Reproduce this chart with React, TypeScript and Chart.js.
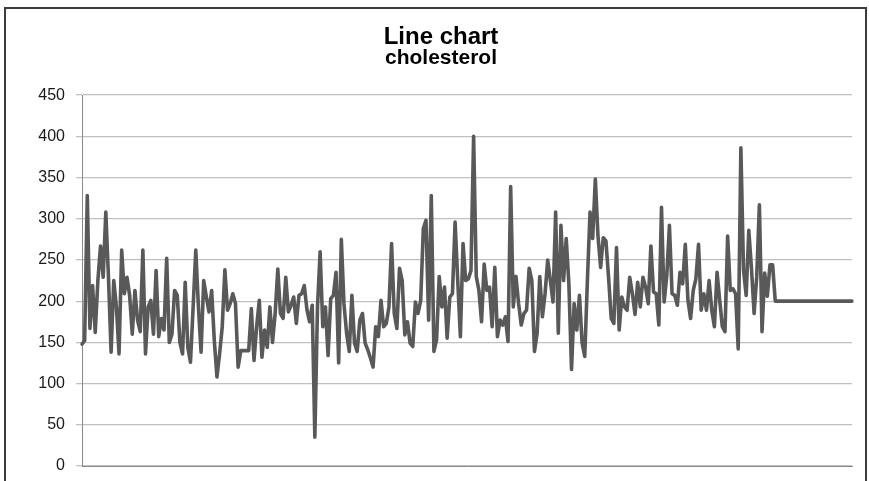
import React, { useEffect, useRef } from "react";
import { Chart, registerables } from "chart.js";

Chart.register(...registerables);

const TITLE = "Line chart";
const SUBTITLE = "cholesterol";
const Y_MIN = 0;
const Y_MAX = 450;
const Y_STEP = 50;

// cholesterol readings, in record order
const cholesterolPart1 = [
  148, 152, 328, 167, 219, 162, 225, 267, 229, 308, 229, 138, 225, 193, 136, 262, 209, 229, 207, 160,
  213, 177, 163, 262, 136, 193, 201, 160, 237, 157, 179, 165, 252, 150, 160, 213,
];
const cholesterolPart2 = [
  207, 150, 136, 223, 144, 126, 193, 262, 193, 138, 225, 205, 187, 213, 152, 108, 136, 169, 238, 189,
  197, 209, 197, 120, 140, 140, 140, 140, 191, 128, 169, 201, 132, 165, 144, 193, 150,
];
const cholesterolPart3 = [
  185, 239, 185, 179, 229, 187, 195, 205, 173, 207, 209, 219, 190, 175, 195, 35, 193, 260, 169, 193,
  134, 203, 207, 235, 125, 275, 197, 161, 139, 207, 149, 139, 177, 185, 149, 141, 131, 120,
];
const cholesterolPart4 = [
  169, 157, 201, 169, 173, 193, 270, 185, 167, 240, 225, 159, 175, 149, 145, 199, 185, 201, 288, 298,
  177, 328, 139, 153, 230, 193, 217, 155, 205, 209, 296, 225, 157, 270, 225, 227, 237, 400, 230, 213,
  175, 245, 213, 217, 169, 241, 157, 177, 171, 181, 151, 339, 193, 230, 197, 171, 185, 189, 240, 225,
  139, 161, 230, 181, 209, 250, 225, 199, 308, 161, 292, 225, 276, 221, 117, 197, 165, 207, 149, 133,
  225, 308, 276, 348,
];
const cholesterolPart5 = [
  279, 241, 277, 273, 229, 179, 173, 265, 165, 205, 193, 189, 229, 209, 184, 223, 193, 229, 217, 197,
  267, 211, 209, 171, 314,
];
const cholesterolPart6 = [
  199, 231, 292, 209, 207, 195, 235, 221, 269, 201, 179, 213, 227, 269, 189, 209, 189, 225, 189, 169,
  235, 201, 169, 163, 279, 213, 215, 209, 142, 386, 238, 207, 286, 240, 185, 230, 317,
];
const cholesterolPart7 = [163, 234, 206, 244, 244, 200];
const cholesterolTail = [
  200, 200, 200, 200, 200, 200, 200, 200, 200, 200, 200, 200, 200, 200, 200, 200, 200, 200, 200, 200,
  200, 200, 200, 200, 200, 200, 200, 200, 200,
];

const cholesterol = [
  ...cholesterolPart1,
  ...cholesterolPart2,
  ...cholesterolPart3,
  ...cholesterolPart4,
  ...cholesterolPart5,
  ...cholesterolPart6,
  ...cholesterolPart7,
  ...cholesterolTail,
];
const records = cholesterol.map((_, i) => String(i + 1));

const FONT = "'Liberation Sans', Arial, sans-serif";

function LineChart() {
  const ref = useRef<HTMLCanvasElement | null>(null);
  useEffect(() => {
    if (!ref.current) return;
    const chart = new Chart(ref.current, {
      type: "line",
      data: {
        labels: records,
        datasets: [
          {
            label: SUBTITLE,
            data: cholesterol,
            borderColor: "#595959",
            backgroundColor: "#595959",
            borderWidth: 3.6,
            borderJoinStyle: "round",
            borderCapStyle: "round",
            pointRadius: 0,
            tension: 0,
            fill: false,
          },
        ],
      },
      options: {
        responsive: false,
        animation: false,
        devicePixelRatio: 1,
        layout: { padding: { left: 30, right: 17, top: 28, bottom: 0 } },
        plugins: {
          legend: { display: false },
          tooltip: { enabled: false },
          title: {
            display: true,
            text: TITLE,
            color: "#000000",
            font: { family: FONT, size: 24, weight: "bold", lineHeight: 0.8 },
            padding: { top: 0, bottom: 0 },
          },
          subtitle: {
            display: true,
            text: SUBTITLE,
            color: "#000000",
            font: { family: FONT, size: 21, weight: "bold", lineHeight: 0.9 },
            padding: { top: 2, bottom: 27 },
          },
        },
        scales: {
          x: {
            type: "category",
            grid: { display: false, drawTicks: false },
            ticks: { display: false },
            border: { display: true, color: "#8a8a8a", width: 1 },
          },
          y: {
            min: Y_MIN,
            max: Y_MAX,
            ticks: {
              stepSize: Y_STEP,
              color: "#1a1a1a",
              font: { family: FONT, size: 16 },
              padding: 11,
            },
            grid: { color: "#c0c0c0", lineWidth: 1.3, tickLength: 6, drawTicks: true },
            border: { display: true, color: "#8a8a8a", width: 1 },
            afterFit: (scale: any) => {
              scale.width = 52;
              scale.paddingBottom = 15;
              scale.paddingTop = 0;
            },
          },
        },
      },
    });
    return () => chart.destroy();
  }, []);
  return (
    <div style={{ position: "absolute", left: 0, top: 0, width: 869, height: 481, background: "#ffffff" }}>
      <canvas ref={ref} width={869} height={481} style={{ position: "absolute", left: 0, top: 0 }} />
      <div
        style={{
          position: "absolute",
          left: 4,
          top: 7,
          width: 863,
          height: 474,
          boxSizing: "border-box",
          borderTop: "2px solid #3c3c3c",
          borderLeft: "2px solid #3c3c3c",
          borderRight: "2px solid #3c3c3c",
          pointerEvents: "none",
        }}
      />
    </div>
  );
}

export default function App() {
  return <LineChart />;
}
